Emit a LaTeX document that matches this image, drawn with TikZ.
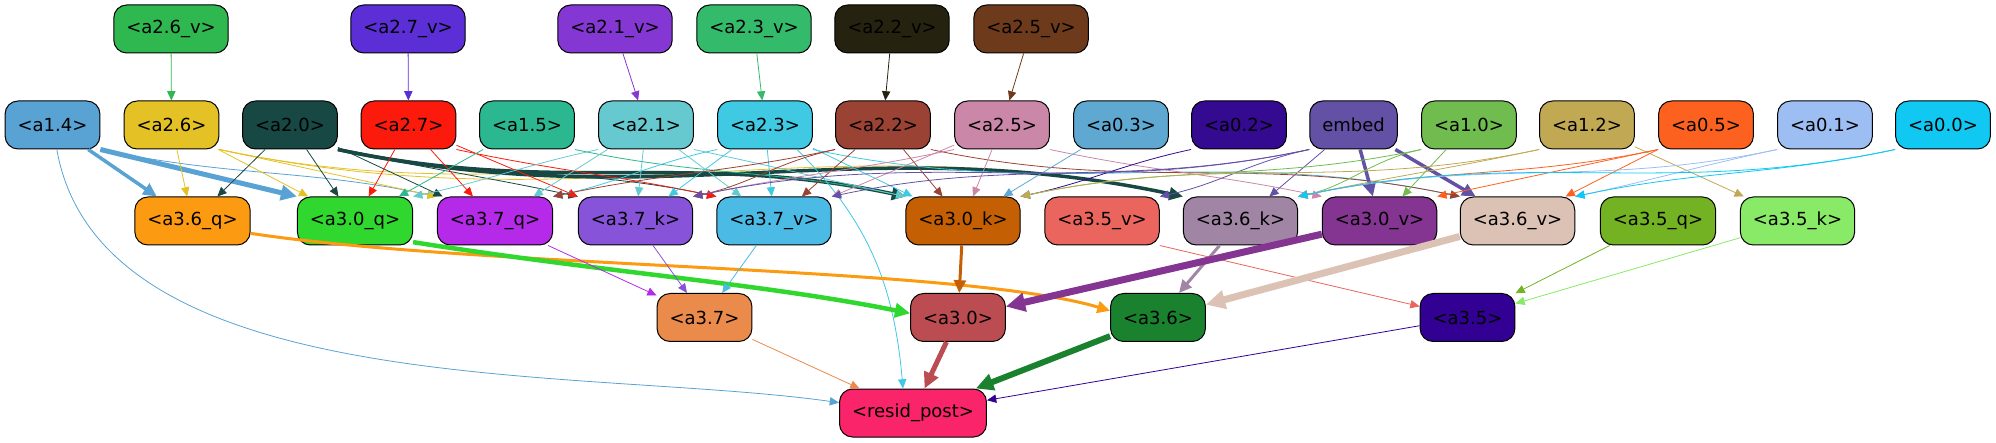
\documentclass[tikz,border=0pt]{standalone}
\usepackage{fontspec}
\setmainfont{DejaVu Sans}
\usepackage{xcolor}
\definecolor{ca26v}{HTML}{2EB84F}
\definecolor{ca27v}{HTML}{5B2ED6}
\definecolor{ca21v}{HTML}{8537D4}
\definecolor{ca23v}{HTML}{33BB6B}
\definecolor{ca22v}{HTML}{262210}
\definecolor{ca25v}{HTML}{6E3A1C}
\definecolor{ca14}{HTML}{59A2D4}
\definecolor{ca26}{HTML}{E4C226}
\definecolor{ca20}{HTML}{174844}
\definecolor{ca27}{HTML}{FB1A0B}
\definecolor{ca15}{HTML}{2BB78F}
\definecolor{ca21}{HTML}{66C9D0}
\definecolor{ca23}{HTML}{3FC9E3}
\definecolor{ca22}{HTML}{9A4233}
\definecolor{ca25}{HTML}{CB87A7}
\definecolor{ca03}{HTML}{5FA8D2}
\definecolor{ca02}{HTML}{330A90}
\definecolor{cembed}{HTML}{6351A6}
\definecolor{ca10}{HTML}{70BC4F}
\definecolor{ca12}{HTML}{C1A954}
\definecolor{ca05}{HTML}{FD611F}
\definecolor{ca01}{HTML}{9DBEF2}
\definecolor{ca00}{HTML}{11C8F3}
\definecolor{ca36q}{HTML}{FC9A12}
\definecolor{ca30q}{HTML}{2FD72E}
\definecolor{ca37q}{HTML}{B42AE8}
\definecolor{ca37k}{HTML}{8653D9}
\definecolor{ca37v}{HTML}{4BBBE6}
\definecolor{ca30k}{HTML}{C55F03}
\definecolor{ca35v}{HTML}{EA655D}
\definecolor{ca36k}{HTML}{A085A5}
\definecolor{ca30v}{HTML}{843491}
\definecolor{ca36v}{HTML}{DBC2B4}
\definecolor{ca35q}{HTML}{73B223}
\definecolor{ca35k}{HTML}{88EA66}
\definecolor{ca37}{HTML}{EA8A4B}
\definecolor{ca30}{HTML}{BB4C52}
\definecolor{ca36}{HTML}{1A822F}
\definecolor{ca35}{HTML}{330094}
\definecolor{cresid}{HTML}{F9246A}
\usepackage{tikz}
\usetikzlibrary{arrows.meta}

\begin{document}
\begin{tikzpicture}[x=1pt, y=-1pt, >={Triangle[length=8pt 1.6, width=7pt 1.6]},
    headbox/.style={draw=black, line width=1pt, rounded corners=13pt, minimum height=48pt,
        inner xsep=12.5pt, inner ysep=0pt, text=black, font=\fontsize{18}{21}\selectfont},
    wire/.style={->, line width=0.8pt},
    rl/.style={out=-12, in=168},
    ll/.style={out=192, in=12}]
    \useasboundingbox (0,0) rectangle (1996,443);

    % row 0
    \node[headbox, fill=ca26v] (a26v) at (171,29) {<a2.6\_v>};
    \node[headbox, fill=ca27v] (a27v) at (408,29) {<a2.7\_v>};
    \node[headbox, fill=ca21v] (a21v) at (615,29) {<a2.1\_v>};
    \node[headbox, fill=ca23v] (a23v) at (754,29) {<a2.3\_v>};
    \node[headbox, fill=ca22v] (a22v) at (892,29) {<a2.2\_v>};
    \node[headbox, fill=ca25v] (a25v) at (1031,29) {<a2.5\_v>};

    % row 1
    \node[headbox, fill=ca14] (a14) at (52.5,125) {<a1.4>};
    \node[headbox, fill=ca26] (a26) at (171.5,125) {<a2.6>};
    \node[headbox, fill=ca20] (a20) at (290,125) {<a2.0>};
    \node[headbox, fill=ca27] (a27) at (408.5,125) {<a2.7>};
    \node[headbox, fill=ca15] (a15) at (527,125) {<a1.5>};
    \node[headbox, fill=ca21] (a21) at (646,125) {<a2.1>};
    \node[headbox, fill=ca23] (a23) at (765,125) {<a2.3>};
    \node[headbox, fill=ca22] (a22) at (883,125) {<a2.2>};
    \node[headbox, fill=ca25] (a25) at (1002,125) {<a2.5>};
    \node[headbox, fill=ca03] (a03) at (1121,125) {<a0.3>};
    \node[headbox, fill=ca02] (a02) at (1239,125) {<a0.2>};
    \node[headbox, fill=cembed] (embed) at (1353.5,125) {embed};
    \node[headbox, fill=ca10] (a10) at (1469,125) {<a1.0>};
    \node[headbox, fill=ca12] (a12) at (1587,125) {<a1.2>};
    \node[headbox, fill=ca05] (a05) at (1706,125) {<a0.5>};
    \node[headbox, fill=ca01] (a01) at (1825,125) {<a0.1>};
    \node[headbox, fill=ca00] (a00) at (1943,125) {<a0.0>};

    % row 2
    \node[headbox, fill=ca36q] (a36q) at (192.5,221) {<a3.6\_q>};
    \node[headbox, fill=ca30q] (a30q) at (355,221) {<a3.0\_q>};
    \node[headbox, fill=ca37q] (a37q) at (495,221) {<a3.7\_q>};
    \node[headbox, fill=ca37k] (a37k) at (635.5,221) {<a3.7\_k>};
    \node[headbox, fill=ca37v] (a37v) at (774,221) {<a3.7\_v>};
    \node[headbox, fill=ca30k] (a30k) at (963,221) {<a3.0\_k>};
    \node[headbox, fill=ca35v] (a35v) at (1102,221) {<a3.5\_v>};
    \node[headbox, fill=ca36k] (a36k) at (1240.5,221) {<a3.6\_k>};
    \node[headbox, fill=ca30v] (a30v) at (1379.5,221) {<a3.0\_v>};
    \node[headbox, fill=ca36v] (a36v) at (1517.5,221) {<a3.6\_v>};
    \node[headbox, fill=ca35q] (a35q) at (1658,221) {<a3.5\_q>};
    \node[headbox, fill=ca35k] (a35k) at (1797.5,221) {<a3.5\_k>};

    % row 3 and output
    \node[headbox, fill=ca37] (a37) at (704.5,317.5) {<a3.7>};
    \node[headbox, fill=ca30] (a30) at (958,317.5) {<a3.0>};
    \node[headbox, fill=ca36] (a36) at (1158,317.5) {<a3.6>};
    \node[headbox, fill=ca35] (a35) at (1467.5,317.5) {<a3.5>};
    \node[headbox, fill=cresid] (resid) at (913,413) {<resid\_post>};

    % value inputs
    \draw[wire, ca26v] (a26v) -- (a26);
    \draw[wire, ca27v] (a27v) -- (a27);
    \draw[wire, ca21v] (a21v) -- (a21);
    \draw[wire, ca23v] (a23v) -- (a23);
    \draw[wire, ca22v] (a22v) -- (a22);
    \draw[wire, ca25v] (a25v) -- (a25);

    % into the q, k, v heads
    \draw[wire, ca14, line width=3.5pt] (a14) -- (a36q);
    \draw[wire, ca14, line width=5pt] (a14.south east) -- (a30q.north west);
    \draw[wire, ca14] (a14.south east) to[rl] (a37q.north west);
    \draw[wire, ca14] (a14) to[out=-80, in=172, looseness=0.8] (resid);

    \draw[wire, ca26] (a26) -- (a36q);
    \draw[wire, ca26] (a26) -- (a30q);
    \draw[wire, ca26] (a26.south east) to[rl] (a37q.north west);
    \draw[wire, ca26] (a26.south east) to[rl] (a30k.north west);
    \draw[wire, ca26] (a26.south east) to[rl] (a36k.north west);

    \draw[wire, ca20] (a20) -- (a36q);
    \draw[wire, ca20] (a20) -- (a30q);
    \draw[wire, ca20] (a20) -- (a37q);
    \draw[wire, ca20] (a20.south east) to[rl] (a37k.north west);
    \draw[wire, ca20] (a20.south east) to[rl] (a37v.north west);
    \draw[wire, ca20, line width=3.5pt] (a20.south east) to[rl] (a30k.north west);
    \draw[wire, ca20, line width=3.5pt] (a20.south east) to[rl] (a36k.north west);

    \draw[wire, ca27] (a27) -- (a30q);
    \draw[wire, ca27] (a27) -- (a37q);
    \draw[wire, ca27] (a27) -- (a37k);
    \draw[wire, ca27] (a27.south east) to[rl] (a37v.north west);

    \draw[wire, ca15] (a15) -- (a30q);
    \draw[wire, ca15] (a15.south east) to[rl] (a30k.north west);

    \draw[wire, ca21] (a21.south west) to[ll] (a30q.north east);
    \draw[wire, ca21] (a21) -- (a37q);
    \draw[wire, ca21] (a21) -- (a37k);
    \draw[wire, ca21] (a21) -- (a37v);
    \draw[wire, ca21] (a21.south east) to[rl] (a30k.north west);

    \draw[wire, ca23] (a23.south west) to[ll] (a37q.north east);
    \draw[wire, ca23] (a23) -- (a37k);
    \draw[wire, ca23] (a23) -- (a37v);
    \draw[wire, ca23] (a23) -- (a30k);
    \draw[wire, ca23] (a23.south east) to[rl] (a36v.north west);
    \draw[wire, ca23] ([xshift=32pt]a23.south) to[out=-45, in=95] ([xshift=-10pt]resid.north);

    \draw[wire, ca22] (a22.south west) to[ll] (a37q.north east);
    \draw[wire, ca22] (a22.south west) to[ll] (a37k.north east);
    \draw[wire, ca22] (a22) -- (a37v);
    \draw[wire, ca22] (a22) -- (a30k);
    \draw[wire, ca22] (a22.south east) to[rl] (a36v.north west);

    \draw[wire, ca25] (a25.south west) to[ll] (a37k.north east);
    \draw[wire, ca25] (a25) -- (a37v);
    \draw[wire, ca25] (a25) -- (a30k);
    \draw[wire, ca25] (a25.south east) to[rl] (a30v.north west);

    \draw[wire, ca03] (a03) -- (a30k);
    \draw[wire, ca02] (a02.south west) to[ll] (a30k.north east);

    \draw[wire, cembed] (embed.south west) to[ll] (a37k.north east);
    \draw[wire, cembed] (embed.south west) to[ll] (a37v.north east);
    \draw[wire, cembed] (embed.south west) to[ll] (a35v.north east);
    \draw[wire, cembed] (embed) -- (a36k);
    \draw[wire, cembed, line width=3.5pt] (embed) -- (a30v);
    \draw[wire, cembed, line width=3.5pt] (embed) -- (a36v);

    \draw[wire, ca10] (a10.south west) to[ll] (a30k.north east);
    \draw[wire, ca10] (a10.south west) to[ll] (a36k.north east);
    \draw[wire, ca10] (a10) -- (a30v);

    \draw[wire, ca12] (a12.south west) to[ll] (a30k.north east);
    \draw[wire, ca12] (a12.south west) to[ll] (a36k.north east);
    \draw[wire, ca12] (a12) -- (a35k);

    \draw[wire, ca05] (a05.south west) to[ll] (a36k.north east);
    \draw[wire, ca05] (a05.south west) to[ll] (a30v.north east);
    \draw[wire, ca05] (a05) -- (a36v);

    \draw[wire, ca01] (a01.south west) to[ll] (a36k.north east);
    \draw[wire, ca01] (a01.south west) to[ll] (a36v.north east);

    \draw[wire, ca00] (a00.south west) to[ll] (a36k.north east);
    \draw[wire, ca00] (a00.south west) to[ll] (a36v.north east);

    % heads
    \draw[wire, ca36q, line width=3pt] (a36q.-12) .. controls +(230,35) and +(-150,-45) .. (a36.172);
    \draw[wire, ca30q, line width=4.5pt] (a30q.-20) .. controls +(190,30) and +(-150,-30) .. (a30.175);
    \draw[wire, ca37q] (a37q) -- (a37);
    \draw[wire, ca37k] (a37k) -- (a37);
    \draw[wire, ca37v] (a37v) -- (a37);
    \draw[wire, ca30k, line width=3pt] (a30k) -- (a30);
    \draw[wire, ca35v] (a35v.south east) -- (a35);
    \draw[wire, ca36k, line width=3pt] (a36k) -- (a36);
    \draw[wire, ca30v, line width=7pt] (a30v) -- (a30);
    \draw[wire, ca36v, line width=7pt] (a36v) -- (a36);
    \draw[wire, ca35q] (a35q) -- (a35);
    \draw[wire, ca35k] (a35k) -- (a35);

    % output
    \draw[wire, ca37] (a37) -- (resid);
    \draw[wire, ca30, line width=5pt] (a30) -- (resid);
    \draw[wire, ca36, line width=6pt] (a36) -- (resid);
    \draw[wire, ca35] (a35) -- (resid);
\end{tikzpicture}
\end{document}
